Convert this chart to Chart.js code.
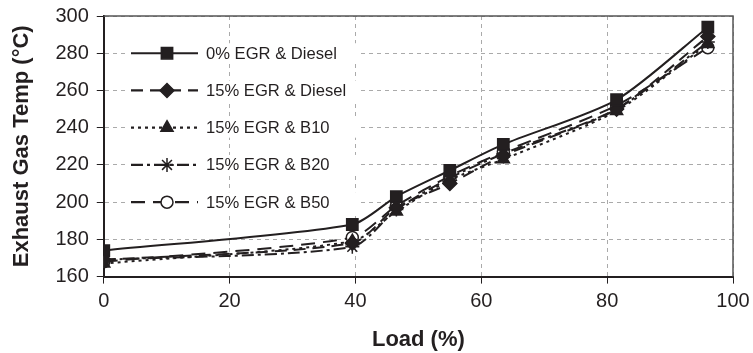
<!DOCTYPE html>
<html><head><meta charset="utf-8">
<script src="https://cdn.jsdelivr.net/npm/chart.js@4"></script>
<style>html,body{margin:0;padding:0;background:#fff}#w{width:753px;height:353px}</style>
</head><body><div id="w"><canvas id="c" width="753" height="353"></canvas></div>
<script>
const loads = [0, 39.5, 46.5, 55, 63.5, 81.5, 96];
const seriesNames = ['0% EGR & Diesel','15% EGR & Diesel','15% EGR & B10','15% EGR & B20','15% EGR & B50'];
const egr0Diesel = [174, 188, 203, 217, 231, 255, 294];
const egr15Diesel = [169, 178, 197, 210, 225, 250, 289];
const egr15B10 = [167, 179, 195, 212, 223, 249, 285];
const egr15B20 = [169, 176, 196, 213, 226, 250, 286];
const egr15B50 = [168, 181, 198, 214, 227, 252, 283];
const xTicks = [0,20,40,60,80,100];
const yTicks = [160,180,200,220,240,260,280,300];

const FAM = '"Liberation Sans", Arial, sans-serif';
const styles = [
  {dash:[], point:'rect', r:8, fill:'#231f20'},
  {dash:[12,7], point:'rectRot', r:7, fill:'#231f20'},
  {dash:[3,4], point:'triangle', r:7, fill:'#231f20'},
  {dash:[12,4,3,4], point:'star', r:7, fill:'#231f20'},
  {dash:[14,8], point:'circle', r:6, fill:'#fff'}
];
const values = [egr0Diesel, egr15Diesel, egr15B10, egr15B20, egr15B50];

const datasets = values.map((v,i)=>({
  label: seriesNames[i],
  data: v.map((y,j)=>({x:loads[j], y})),
  borderColor:'#231f20', borderWidth:2, borderDash: styles[i].dash,
  pointStyle: styles[i].point, pointRadius: styles[i].r,
  pointBackgroundColor: styles[i].fill, pointBorderColor:'#231f20', pointBorderWidth: 1.5,
  tension:0.25, fill:false
}));

const frame = {
  id:'frame',
  afterDraw(chart){
    const {ctx, chartArea:a} = chart;
    ctx.save();
    ctx.strokeStyle='#555'; ctx.lineWidth=1.5; ctx.setLineDash([]);
    ctx.beginPath(); ctx.moveTo(a.left,a.top); ctx.lineTo(a.right,a.top); ctx.lineTo(a.right,a.bottom); ctx.stroke();
    const ys = chart.scales.y;
    const rowVals = [280,260,240,220,200];
    ctx.font = '16.6px ' + FAM;
    ctx.textBaseline='middle';
    rowVals.forEach((rv,i)=>{
      const yy = ys.getPixelForValue(rv);
      const x0 = 131, x1 = 198, xm = 167;
      ctx.fillStyle='#fff'; ctx.fillRect(x0-4, yy-10, 230, 20);
      ctx.strokeStyle='#231f20'; ctx.lineWidth=2.2; ctx.setLineDash(styles[i].dash);
      ctx.beginPath(); ctx.moveTo(x0,yy); ctx.lineTo(x1,yy); ctx.stroke();
      ctx.setLineDash([]);
      ctx.fillStyle = styles[i].fill; ctx.strokeStyle='#231f20'; ctx.lineWidth=1.5;
      Chart.helpers.drawPoint(ctx, {pointStyle:styles[i].point, radius:styles[i].r, borderWidth:1.5}, xm, yy);
      ctx.fillStyle='#231f20';
      ctx.fillText(seriesNames[i], 206, yy+1);
    });
    ctx.restore();
  }
};

new Chart(document.getElementById('c'), {
  type:'line',
  data:{datasets},
  options:{
    responsive:false, animation:false, devicePixelRatio:1,
    layout:{padding:{left:0,right:20,top:16,bottom:0}},
    plugins:{legend:{display:false}, tooltip:{enabled:false}},
    scales:{
      x:{type:'linear', min:0, max:100,
        afterBuildTicks(s){ s.ticks = xTicks.map(v=>({value:v})); },
        afterFit(s){ s.paddingLeft = 0; s.paddingRight = 0; },
        grid:{color:'#aaa', tickColor:'#231f20', tickLength:7, lineWidth:1},
        border:{color:'#231f20', width:2, dash:[4,4]},
        ticks:{color:'#231f20', font:{size:20, family:FAM}, padding:6},
        title:{display:true, text:'Load (%)', color:'#231f20', font:{size:22, weight:'bold', family:FAM}, padding:{top:7,bottom:0}}
      },
      y:{min:160, max:300,
        afterBuildTicks(s){ s.ticks = yTicks.map(v=>({value:v})); },
        afterFit(s){ s.paddingTop = 0; s.paddingBottom = 0; },
        grid:{color:'#aaa', tickColor:'#231f20', tickLength:7, lineWidth:1},
        border:{color:'#231f20', width:2, dash:[4,4]},
        ticks:{color:'#231f20', font:{size:20, family:FAM}, padding:8},
        title:{display:true, text:'Exhaust Gas Temp (°C)', color:'#231f20', font:{size:22, weight:'bold', family:FAM}, padding:{top:9,bottom:12}}
      }
    }
  },
  plugins:[frame]
});
</script></body></html>
